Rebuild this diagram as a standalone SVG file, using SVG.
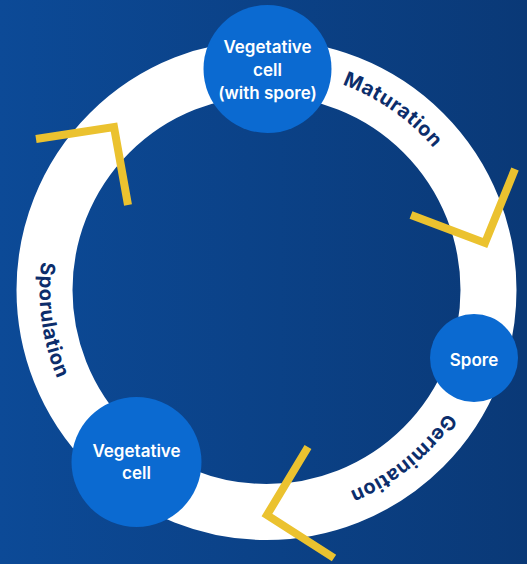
<svg xmlns="http://www.w3.org/2000/svg" width="527" height="564" viewBox="0 0 527 564">
  <defs>
    <linearGradient id="bg" x1="0" y1="0" x2="1" y2="0">
      <stop offset="0" stop-color="#0c4a97"/>
      <stop offset="1" stop-color="#0a3977"/>
    </linearGradient>
    <!-- baselines for the stage labels along the ring -->
    <path id="arc-maturation" d="M285.6,71.8 A219,219 0 0 1 465.0,197.45"/>
    <path id="arc-germination" d="M470.0,368.1 A218,218 0 0 1 300.6,505.3"/>
    <path id="arc-sporulation" d="M56.0,205.0 A227,227 0 0 0 87.6,429.8"/>
  </defs>
  <style>
    .ring { fill: none; stroke: #ffffff; stroke-width: 56; }
    .stage { font-family: Inter, "Liberation Sans", sans-serif; font-weight: 700; font-size: 20px; letter-spacing: 0.6px; fill: #0c2d6b; }
    .chevron { fill: none; stroke: #ebc22f; stroke-width: 8; stroke-linejoin: miter; stroke-linecap: butt; }
    .node { fill: #0b6ad1; }
    .label { font-family: Inter, "Liberation Sans", sans-serif; font-weight: 600; font-size: 17px; fill: #ffffff; text-anchor: middle; }
  </style>

  <rect x="0" y="0" width="527" height="564" fill="url(#bg)"/>

  <g id="connectors">
    <circle class="ring" cx="266.5" cy="290" r="222"/>
    <text class="stage"><textPath href="#arc-maturation" startOffset="50%" text-anchor="middle">Maturation</textPath></text>
    <text class="stage"><textPath href="#arc-germination" startOffset="50%" text-anchor="middle">Germination</textPath></text>
    <text class="stage"><textPath href="#arc-sporulation" startOffset="50%" text-anchor="middle">Sporulation</textPath></text>
    <polyline class="chevron" points="36,139 114,127 128,205"/>
    <polyline class="chevron" points="411,215 485,243 515,169"/>
    <polyline class="chevron" points="308,447 267,515 334,558"/>
  </g>

  <g id="node-vegetative-with-spore">
    <circle class="node" cx="267.5" cy="69" r="64"/>
    <text class="label" x="267.5" y="53">Vegetative</text>
    <text class="label" x="267.5" y="76">cell</text>
    <text class="label" x="267.5" y="99">(with spore)</text>
  </g>

  <g id="node-spore">
    <circle class="node" cx="474" cy="358" r="44"/>
    <text class="label" x="474" y="366">Spore</text>
  </g>

  <g id="node-vegetative">
    <circle class="node" cx="136.5" cy="462" r="65"/>
    <text class="label" x="136.5" y="457">Vegetative</text>
    <text class="label" x="136.5" y="479">cell</text>
  </g>
</svg>
